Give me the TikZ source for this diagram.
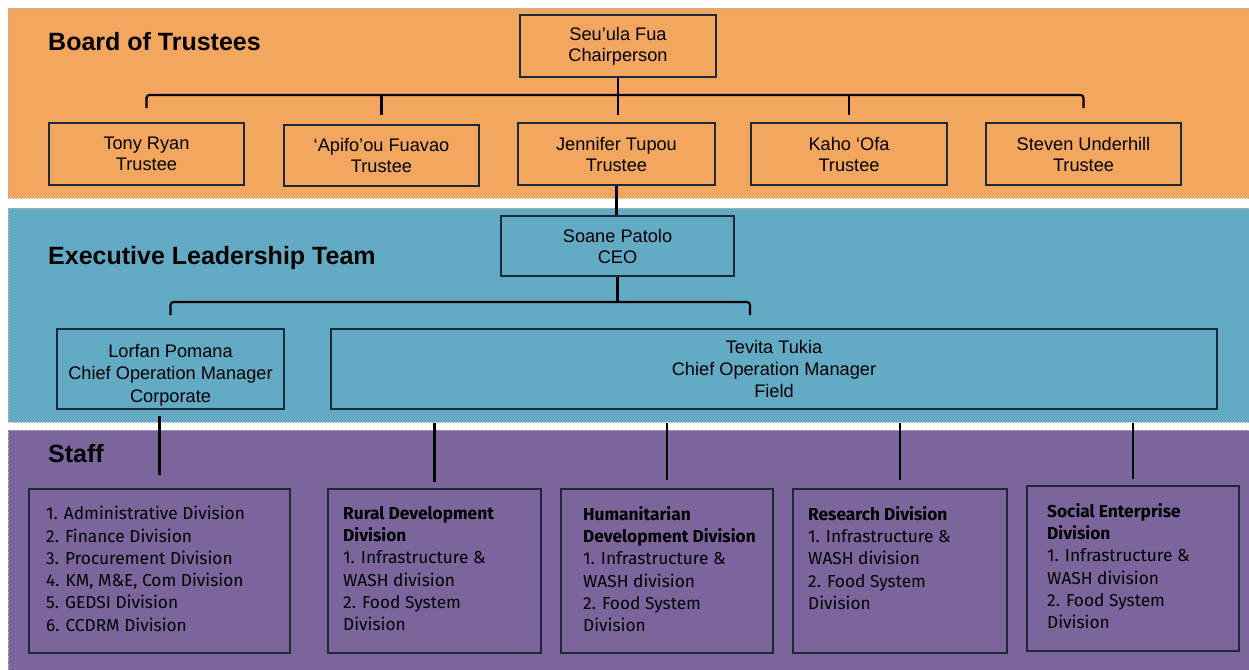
\documentclass[tikz,border=0pt]{standalone}
\usepackage{fontspec}
\setmainfont{Liberation Sans}
\newfontfamily\stafffam{Fira Sans}
\definecolor{orangeband}{RGB}{242,166,94}
\definecolor{blueband}{RGB}{99,170,197}
\definecolor{purpleband}{RGB}{124,100,157}
\definecolor{boxline}{RGB}{28,42,56}
\newcommand{\headfont}{\fontsize{25}{28}\selectfont\bfseries}
\newcommand{\personfont}{\fontsize{18.2}{21}\selectfont}
\newcommand{\stafffont}{\stafffam\fontsize{17.3}{22.3}\selectfont}
\tikzset{
  band/.style={draw=gray!60, densely dotted, line width=0.6pt},
  person/.style={draw=boxline, line width=2pt, inner sep=0pt, anchor=north west, align=center, font=\personfont},
  staffbox/.style={draw=boxline, line width=2pt, inner sep=0pt, anchor=north west},
  stafftext/.style={anchor=north west, align=left, inner sep=0pt, font=\stafffont},
  heading/.style={anchor=base west, inner sep=0pt, font=\headfont},
  link/.style={draw=black, line width=2.1pt},
}
\begin{document}
\begin{tikzpicture}[x=1pt,y=-1pt]
\useasboundingbox (0,0) rectangle (1249,669);

% tier bands
\fill[white] (0,0) rectangle (1249,669);
\path[band, fill=orangeband] (8,8) rectangle (1252,198);
\path[band, fill=blueband] (8,208) rectangle (1252,422);
\path[band, fill=purpleband] (8,430) rectangle (1252,672);

\node[heading] (hboard) at (48,51) {Board of Trustees};
\node[heading] (hexec) at (48,264) {Executive Leadership Team};
\node[heading] (hstaff) at (48,462) {Staff};

% board
\node[person, minimum width=196pt, minimum height=62pt] (chair) at (519,14) {Seu’ula Fua\\Chairperson};
\node[person, minimum width=195pt, minimum height=62pt] (tony) at (48,122) {Tony Ryan\\Trustee};
\node[person, minimum width=195pt, minimum height=61pt] (apifo) at (283,124) {‘Apifo’ou Fuavao\\Trustee};
\node[person, minimum width=197pt, minimum height=62pt] (jen) at (517,122) {Jennifer Tupou\\Trustee};
\node[person, minimum width=196pt, minimum height=62pt] (kaho) at (750,122) {Kaho ‘Ofa\\Trustee};
\node[person, minimum width=195pt, minimum height=62pt] (steven) at (985,122) {Steven Underhill\\Trustee};

% executive
\node[person, minimum width=233pt, minimum height=60pt] (ceo) at (500,215) {Soane Patolo\\CEO};
\node[person, minimum width=227pt, minimum height=80pt] (lorfan) at (56,328) {};
\node[align=center, inner sep=0pt, font=\fontsize{18.2}{22.5}\selectfont] (lorfantext) at ([yshift=-6pt]lorfan.center) {Lorfan Pomana\\Chief Operation Manager\\Corporate};
\node[person, minimum width=886pt, minimum height=80pt, font=\fontsize{18.2}{22}\selectfont] (tevita) at (330,328) {Tevita Tukia\\Chief Operation Manager\\Field};

% staff
\node[staffbox, minimum width=261pt, minimum height=164pt] (s1) at (28,488) {};
\node[staffbox, minimum width=213pt, minimum height=164pt] (s2) at (327,488) {};
\node[staffbox, minimum width=212pt, minimum height=164pt] (s3) at (560,488) {};
\node[staffbox, minimum width=214pt, minimum height=164pt] (s4) at (792,488) {};
\node[staffbox, minimum width=212pt, minimum height=165pt] (s5) at (1026,485) {};

\node[stafftext] (t1) at (46,506) {1. Administrative Division\\2. Finance Division\\3. Procurement Division\\4. KM, M\&E, Com Division\\5. GEDSI Division\\6. CCDRM Division};
\node[stafftext] (t2) at (343,506) {\textbf{Rural Development}\\\textbf{Division}\\1. Infrastructure \&\\WASH division\\2. Food System\\Division};
\node[stafftext] (t3) at (583,506) {\textbf{Humanitarian}\\\textbf{Development Division}\\1. Infrastructure \&\\WASH division\\2. Food System\\Division};
\node[stafftext] (t4) at (808,506) {\textbf{Research Division}\\1. Infrastructure \&\\WASH division\\2. Food System\\Division};
\node[stafftext] (t5) at (1047,503) {\textbf{Social Enterprise}\\\textbf{Division}\\1. Infrastructure \&\\WASH division\\2. Food System\\Division};

% board connectors
\draw[link] (chair.south) -- (chair.south |- 0,115);
\draw[link, rounded corners=3pt] (tony.north |- 0,108) -- (tony.north |- 0,95) -- (steven.north |- 0,95) -- (steven.north |- 0,108);
\draw[link] (apifo.north |- 0,95) -- (apifo.north |- 0,115);
\draw[link] (kaho.north |- 0,95) -- (kaho.north |- 0,115);
\draw[link] (jen.south) -- (jen.south |- ceo.north);

% executive connectors
\coordinate (fieldtop) at (750,315);
\draw[link] (ceo.south) -- (ceo.south |- 0,302);
\draw[link, rounded corners=3pt] (lorfan.north |- 0,315) -- (lorfan.north |- 0,302) -- (fieldtop |- 0,302) -- (fieldtop);

% staff connectors
\draw[link] (s1.north |- 0,416) -- (s1.north |- 0,475);
\draw[link] (s2.north |- 0,423) -- (s2.north |- 0,482);
\draw[link] (s3.north |- 0,423) -- (s3.north |- 0,480);
\draw[link] (s4.north |- 0,423) -- (s4.north |- 0,480);
\draw[link] (s5.north |- 0,423) -- (s5.north |- 0,479);
\end{tikzpicture}
\end{document}
